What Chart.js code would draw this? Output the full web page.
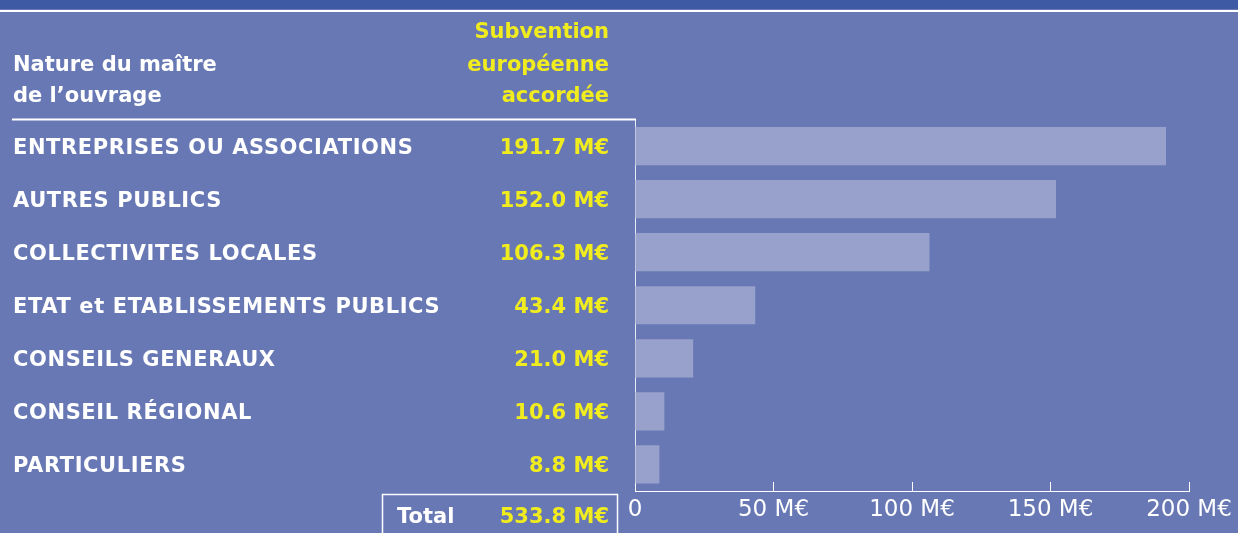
<!DOCTYPE html>
<html>
<head>
<meta charset="utf-8">
<script src="https://cdn.jsdelivr.net/npm/chart.js@4/dist/chart.umd.min.js"></script>
<style>
  html, body { margin: 0; padding: 0; background: #6878b4; overflow: hidden; }
  #wrap { position: relative; width: 1238px; height: 533px; }
</style>
</head>
<body>
<div id="wrap"><canvas id="chart" width="1238" height="533"></canvas></div>
<script>
const categories = [
  "ENTREPRISES OU ASSOCIATIONS",
  "AUTRES PUBLICS",
  "COLLECTIVITES LOCALES",
  "ETAT et ETABLISSEMENTS PUBLICS",
  "CONSEILS GENERAUX",
  "CONSEIL RÉGIONAL",
  "PARTICULIERS",
];
const values = [191.7, 152.0, 106.3, 43.4, 21.0, 10.6, 8.8];
const tickLabels = ["0", "50 M€", "100 M€", "150 M€", "200 M€"];
const headerLeft = ["Nature du maître", "de l’ouvrage"];
const headerRight = ["Subvention", "européenne", "accordée"];
const totalLabel = "Total";
const totalValue = "533.8 M€";

const WHITE = "#ffffff";
const YELLOW = "#f0ec1e";
const BAR = "#97a1cb";
const BOLD = "bold 21px 'DejaVu Sans'";

// header, row labels, values and total box
const tablePlugin = {
  id: "table",
  beforeDraw(chart) {
    const ctx = chart.ctx;
    ctx.save();
    ctx.fillStyle = "#3e5aa5";
    ctx.fillRect(0, 0, chart.width, 9);
    ctx.fillStyle = "#ffffff";
    ctx.fillRect(0, 10, chart.width, 2);
    ctx.restore();
  },
  afterDraw(chart) {
    const ctx = chart.ctx;
    const y = chart.scales.y;
    const left = chart.chartArea.left;
    ctx.save();

    // header line
    ctx.strokeStyle = WHITE;
    ctx.lineWidth = 2;
    ctx.beginPath();
    ctx.moveTo(12, chart.chartArea.top);
    ctx.lineTo(left + 1, chart.chartArea.top);
    ctx.stroke();

    ctx.font = BOLD;
    ctx.textBaseline = "alphabetic";
    ctx.fillStyle = WHITE;
    ctx.textAlign = "left";
    ctx.fillText(headerLeft[0], 13, 71);
    ctx.fillText(headerLeft[1], 13, 102);
    ctx.fillStyle = YELLOW;
    ctx.textAlign = "right";
    ctx.fillText(headerRight[0], 609, 38);
    ctx.fillText(headerRight[1], 609, 71);
    ctx.fillText(headerRight[2], 609, 102);

    // rows
    categories.forEach((c, i) => {
      const py = y.getPixelForValue(i) + 7.5;
      ctx.letterSpacing = "0.6px";
      ctx.fillStyle = WHITE;
      ctx.textAlign = "left";
      ctx.fillText(c, 13, py);
      ctx.letterSpacing = "0px";
      ctx.fillStyle = YELLOW;
      ctx.textAlign = "right";
      ctx.fillText(values[i].toFixed(1) + " M€", 609, py);
    });

    // total box
    ctx.strokeStyle = WHITE;
    ctx.lineWidth = 1.5;
    ctx.strokeRect(382.5, 494.5, 235, 60);
    ctx.fillStyle = WHITE;
    ctx.textAlign = "left";
    ctx.fillText(totalLabel, 397, 523);
    ctx.fillStyle = YELLOW;
    ctx.textAlign = "right";
    ctx.fillText(totalValue, 609, 523);

    ctx.restore();
  },
};

new Chart(document.getElementById("chart"), {
  type: "bar",
  data: {
    labels: categories,
    datasets: [
      {
        data: values,
        backgroundColor: BAR,
        borderWidth: 0,
        barPercentage: 0.72,
        categoryPercentage: 1,
      },
    ],
  },
  options: {
    indexAxis: "y",
    responsive: false,
    animation: false,
    layout: { padding: { left: 635, right: 49, top: 119.5, bottom: 0 } },
    scales: {
      x: {
        min: 0,
        max: 200,
        afterFit: (s) => {
          s.height = 42;
          s.paddingLeft = 0;
          s.paddingRight = 0;
        },
        ticks: {
          stepSize: 50,
          color: WHITE,
          font: { family: "'DejaVu Sans'", size: 23 },
          padding: 14,
          maxRotation: 0,
          callback: (v, i) => tickLabels[i],
        },
        grid: {
          drawOnChartArea: false,
          drawTicks: true,
          tickLength: -9,
          color: WHITE,
          lineWidth: 1,
        },
        border: { display: true, color: WHITE, width: 1 },
      },
      y: {
        afterFit: (s) => (s.width = 0),
        ticks: { display: false },
        grid: { display: false },
        border: { display: true, color: "rgba(255,255,255,0.85)", width: 1 },
      },
    },
    plugins: {
      legend: { display: false },
      tooltip: { enabled: false },
    },
  },
  plugins: [tablePlugin],
});
</script>
</body>
</html>
